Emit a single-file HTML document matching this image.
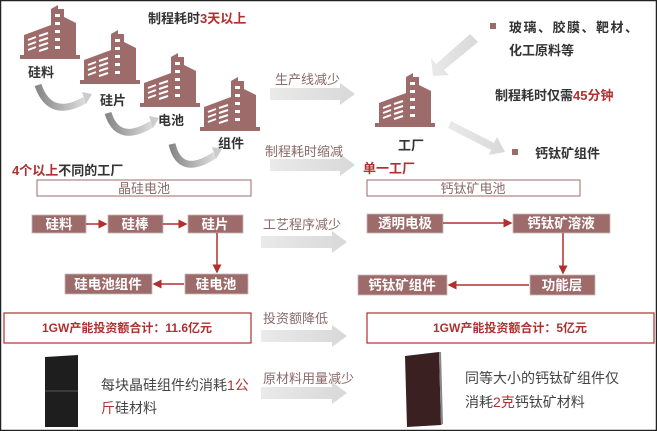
<!DOCTYPE html>
<html><head><meta charset="utf-8"><style>
html,body{margin:0;padding:0;background:#fff}
svg{display:block}
text{font-family:"Liberation Sans","Noto Sans CJK SC",sans-serif}
</style></head><body>
<svg width="657" height="431" viewBox="0 0 657 431" xmlns="http://www.w3.org/2000/svg">
<defs>
<g id="bld">
 <rect x="0" y="50" width="60" height="4" fill="#9e6b6b"/>
 <polygon points="31,4 38,0 38,4 44,4 44,52 31,52" fill="#9e6b6b"/>
 <polygon points="44,12 56,18 56,52 44,52" fill="#9e6b6b"/>
 <polygon points="4,30 31,20 31,52 4,52" fill="#9e6b6b"/>
 <g fill="#fff">
  <rect x="35" y="9" width="5" height="3"/><rect x="35" y="17" width="5" height="3"/><rect x="35" y="25" width="5" height="3"/><rect x="35" y="33" width="5" height="3"/><rect x="35" y="41" width="5" height="3"/>
 </g>
 <g stroke="#fff" stroke-width="2">
  <line x1="8" y1="35" x2="16" y2="32"/><line x1="8" y1="40" x2="16" y2="37"/><line x1="8" y1="45" x2="16" y2="42"/>
  <line x1="19" y1="31" x2="28" y2="28"/><line x1="19" y1="36" x2="28" y2="33"/><line x1="19" y1="41" x2="28" y2="38"/><line x1="19" y1="46" x2="28" y2="43"/>
 </g>
</g>
<linearGradient id="ga" x1="0" x2="1"><stop offset="0" stop-color="#eaeaea"/><stop offset="1" stop-color="#d8d8d8"/></linearGradient>
<linearGradient id="gc" x1="0" x2="1"><stop offset="0" stop-color="#888"/><stop offset="1" stop-color="#ddd"/></linearGradient>
<marker id="rh" markerWidth="6" markerHeight="6" refX="5" refY="3" orient="auto"><path d="M0,0 L6,3 L0,6z" fill="#b03030"/></marker>
</defs>
<rect x="0.5" y="0.5" width="656" height="430" fill="#fff" stroke="#222" stroke-width="1.5"/>

<use href="#bld" x="20" y="5"/>
<use href="#bld" x="80" y="30"/>
<use href="#bld" x="140" y="53"/>
<use href="#bld" x="200" y="77"/>
<use href="#bld" x="375" y="73"/>

<g font-size="13" font-weight="bold" fill="#333">
<text x="28" y="77">硅料</text><text x="100" y="105">硅片</text><text x="158" y="125">电池</text><text x="218" y="148">组件</text>
<text x="398" y="150">工厂</text>
</g>
<text x="148" y="23" font-size="13" font-weight="bold" fill="#333">制程耗时<tspan fill="#b03030">3天以上</tspan></text>
<g fill="none" stroke="url(#gc)" stroke-width="7">
<path d="M38,85 Q50,120 85,100"/><path d="M108,113 Q118,145 152,124"/><path d="M172,144 Q180,178 215,155"/>
</g>
<g fill="#ccc"><polygon points="82,92 92,94 86,104"/><polygon points="149,116 159,118 153,128"/><polygon points="212,147 222,149 216,159"/></g>

<text x="12" y="175" font-size="13" font-weight="bold" fill="#333"><tspan fill="#b03030">4个以上</tspan>不同的工厂</text>
<rect x="37" y="180" width="214" height="16" fill="#fff" stroke="#9e6b6b"/>
<text x="144" y="193" font-size="13" fill="#8a6a6a" text-anchor="middle">晶硅电池</text>
<rect x="367" y="180" width="213" height="16" fill="#fff" stroke="#9e6b6b"/>
<text x="473" y="193" font-size="13" fill="#8a6a6a" text-anchor="middle">钙钛矿电池</text>
<text x="363" y="173" font-size="13" font-weight="bold" fill="#333"><tspan fill="#b03030">单一工厂</tspan></text>

<g fill="url(#ga)">
<polygon points="270,88 340,88 340,83 355,94 340,105 340,100 270,100"/>
<polygon points="270,159 340,159 340,154 355,165 340,176 340,171 270,171"/>
<polygon points="261,236 332,236 332,231 347,242 332,253 332,248 261,248"/>
<polygon points="261,330 332,330 332,325 347,336 332,347 332,342 261,342"/>
<polygon points="261,387 332,387 332,382 347,393 332,404 332,399 261,399"/>
<polygon points="478,42 470,34 436,64 431,58 433,76 449,75 444,70"/>
<polygon points="448,128 451,121 494,143 497,137 505,152 489,155 491,150"/>
</g>
<g font-size="13" fill="#8a6a6a">
<text x="275" y="84">生产线减少</text><text x="265" y="156">制程耗时缩减</text>
<text x="263" y="229">工艺程序减少</text><text x="263" y="323">投资额降低</text><text x="263" y="383">原材料用量减少</text>
</g>

<rect x="490" y="23" width="6" height="6" fill="#9e6b6b"/>
<g font-size="13" font-weight="bold" fill="#333">
<text x="509" y="32" letter-spacing="1.5">玻璃、胶膜、靶材、</text>
<text x="509" y="55">化工原料等</text>
<text x="495" y="100">制程耗时仅需<tspan fill="#b03030">45分钟</tspan></text>
<text x="535" y="158">钙钛矿组件</text>
</g>
<rect x="512" y="149" width="6" height="6" fill="#9e6b6b"/>

<g fill="#9e6b6b" stroke="#c8b8b8" stroke-width="0.8">
<rect x="32" y="215" width="54" height="18"/><rect x="108" y="215" width="55" height="18"/><rect x="188" y="215" width="55" height="18"/>
<rect x="185" y="274" width="63" height="20"/><rect x="65" y="274" width="87" height="20"/>
<rect x="367" y="214" width="76" height="19"/><rect x="513" y="214" width="97" height="19"/>
<rect x="530" y="275" width="65" height="20"/><rect x="358" y="275" width="89" height="20"/>
</g>
<g stroke="#b03030" stroke-width="1.5" marker-end="url(#rh)">
<line x1="86" y1="224" x2="106" y2="224"/><line x1="163" y1="224" x2="186" y2="224"/>
<line x1="217" y1="233" x2="217" y2="272"/><line x1="184" y1="284" x2="154" y2="284"/>
<line x1="443" y1="223" x2="511" y2="223"/><line x1="563" y1="233" x2="563" y2="273"/>
<line x1="529" y1="285" x2="449" y2="285"/>
</g>
<g font-size="13.5" font-weight="bold" fill="#fff" text-anchor="middle">
<text x="59" y="229">硅料</text><text x="135" y="229">硅棒</text><text x="215" y="229">硅片</text>
<text x="216" y="289">硅电池</text><text x="108" y="289">硅电池组件</text>
<text x="405" y="228">透明电极</text><text x="561" y="228">钙钛矿溶液</text>
<text x="562" y="290">功能层</text><text x="402" y="290">钙钛矿组件</text>
</g>

<rect x="4" y="313" width="247" height="30" fill="#fff" stroke="#b03030" stroke-width="1.2"/>
<rect x="367" y="313" width="287" height="30" fill="#fff" stroke="#b03030" stroke-width="1.2"/>
<g font-size="12" font-weight="bold" fill="#b03030" text-anchor="middle">
<text x="127" y="332">1GW产能投资额合计：11.6亿元</text>
<text x="510" y="332">1GW产能投资额合计：5亿元</text>
</g>

<polygon points="45,357 78,355 78,427 45,427" fill="#1e1e1e"/>
<line x1="45" y1="391" x2="78" y2="391" stroke="#555"/>
<polygon points="405,356 439,352 441,425 407,427" fill="#3a2020"/>
<polygon points="439,352 441,425 443,424 441,352" fill="#888"/>
<g font-size="14" fill="#444">
<text x="101" y="390">每块晶硅组件约消耗<tspan fill="#b03030">1公</tspan></text>
<text x="101" y="413"><tspan fill="#b03030">斤</tspan>硅材料</text>
<text x="465" y="383">同等大小的钙钛矿组件仅</text>
<text x="465" y="407">消耗<tspan fill="#b03030">2克</tspan>钙钛矿材料</text>
</g>
</svg>
</body></html>
